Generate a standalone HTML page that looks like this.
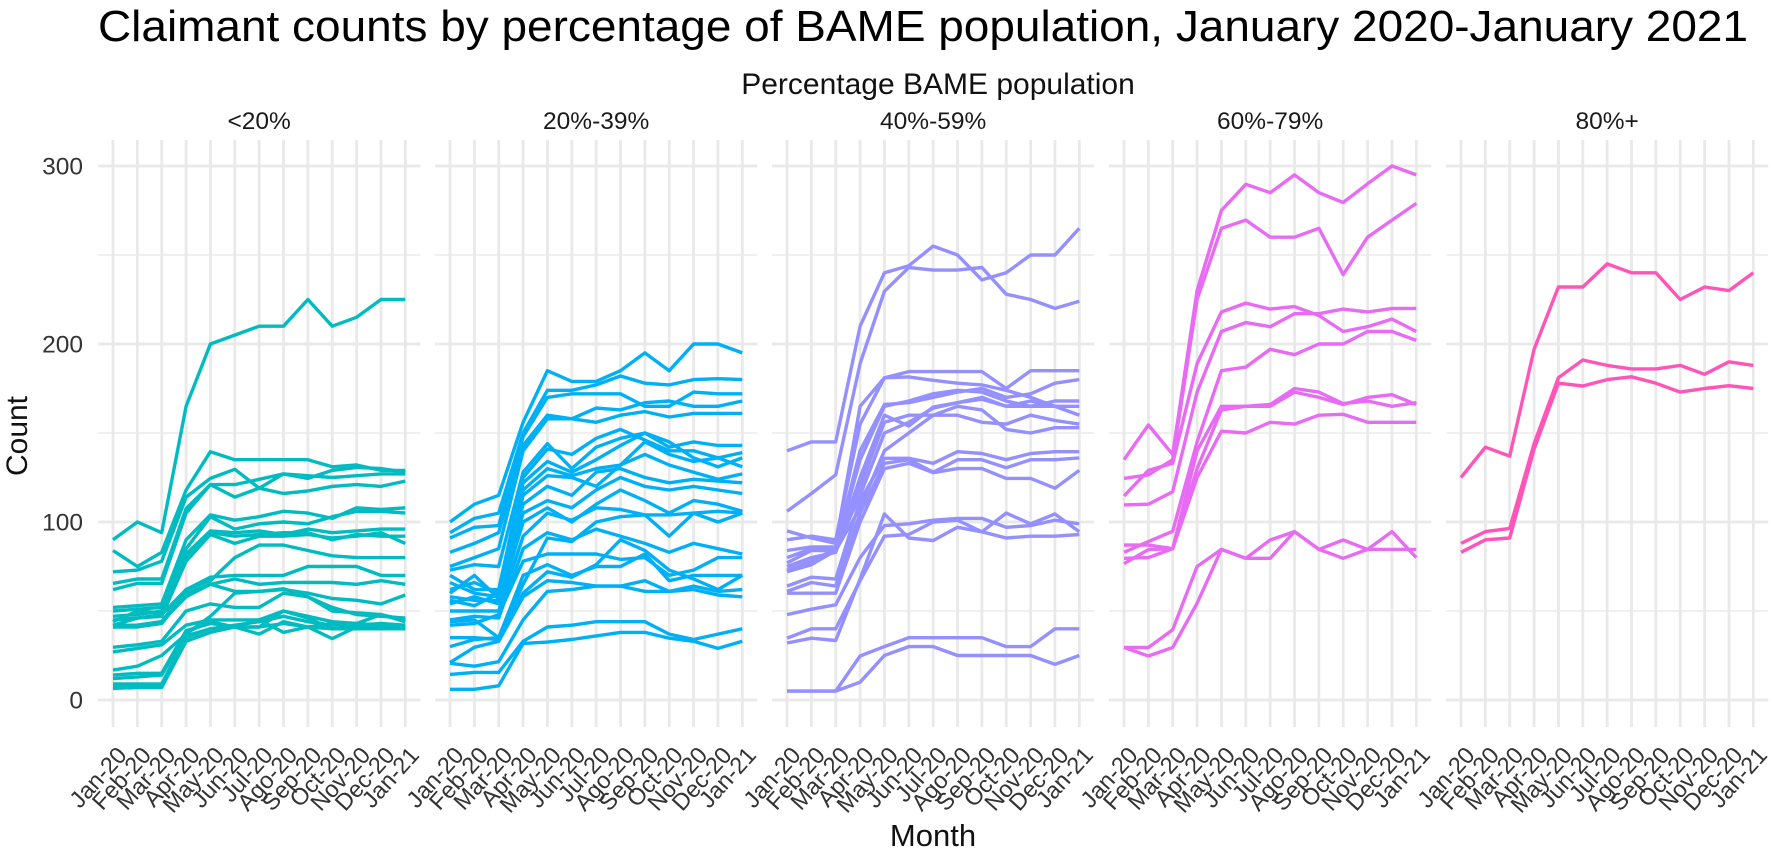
<!DOCTYPE html>
<html lang="en">
<head>
<meta charset="utf-8">
<title>Claimant counts by percentage of BAME population</title>
<style>
  html, body { margin: 0; padding: 0; background: #fff; }
  svg { display: block; font-family: "Liberation Sans", Arial, sans-serif; }
</style>
</head>
<body>
<svg id="chart" xmlns="http://www.w3.org/2000/svg" width="1772" height="855" viewBox="0 0 1772 855">
  <rect x="0" y="0" width="1772" height="855" fill="#ffffff"/>
  <text x="98" y="41" font-size="44" fill="#000" textLength="1650" lengthAdjust="spacingAndGlyphs">Claimant counts by percentage of BAME population, January 2020-January 2021</text>
  <text x="938" y="94" font-size="30" fill="#111" text-anchor="middle">Percentage BAME population</text>
  <text transform="translate(27 436) rotate(-90)" font-size="30" fill="#111" text-anchor="middle">Count</text>
  <text x="933" y="846" font-size="31" fill="#111" text-anchor="middle">Month</text>
</svg>
<script>
const months = ['Jan-20','Feb-20','Mar-20','Apr-20','May-20','Jun-20','Jul-20','Ago-20','Sep-20','Oct-20','Nov-20','Dec-20','Jan-21'];
const majorTicks = [0, 100, 200, 300];
const minorTicks = [50, 150, 250];
const panelLabels = ['<20%', '20%-39%', '40%-59%', '60%-79%', '80%+'];
const panelColors = ['#00BCC0', '#00B0F6', '#9590FF', '#E76BF3', '#FF55B8'];

const seriesUnder20 = [
  [90,100,94,165,200,205,210,210,225,210,215,225,225],
  [84,75,83,118,139.5,135,135,135,135,131,132,129,129],
  [72,73,78,114,124.5,129.6,119,116,117.5,120,121,120,123],
  [65.5,68,68,107.5,121,121,124,127,126,125,126,127,127],
  [62,65.5,65.5,105,121,114,119,127,124.5,129,130.7,130,128],
  [52,53,54,90,104,101,103,106,105,102,108,107,108],
  [50,51,52,85,103,96,99,100,99,103,106,106,105],
  [47,48,50,82,95,94,95,93,96,94,95,96,96],
  [44,50,49,80,94,92,93,94,94,90,93,92,92],
  [42,46,47,78,93,88,92,92,93,91,92,94,88],
  [41,42,44,62,67,80,87,87,84,81,80,80,80],
  [45,46,48,62,69,70,70,70,75,75,75,70,70],
  [42,42,44,58,65,68,65,66,66,66,65,67,65],
  [41,41,43,60,65,61,61,62,60,57,56,54,59],
  [29.6,31,33,50,54,52,52,60,58,52,48,47,46],
  [16.8,19,25,37,47,60,61,62.5,58,50,49,48,44],
  [27,29,31,42,45,45,45,50,47,44,43,42,41],
  [14,15,15,39,43,41,37,44,41,34.5,41,41,41],
  [12,13,14,38,44,41,45,38,41,43,43,48,45],
  [9,9,9,36,40,41,41,50,46,40,41,40,40],
  [6.5,7,7,33,38,41,41,43,41,40,40,40,40],
  [8,8,8,35,40,42,44,47,44,42,42,43,42]
];

const series20to39 = [
  [100,110,115,156,185,179,179,185,195,185,200,200,195],
  [94,102,105,150,174,174,177,182,178,177,180,180.5,180],
  [91,97,98,148,170,172,172,172,165,165,173,172,172],
  [83,88,94,143,160,158,164,163,167,168,165,165,168],
  [75,80,85,140,158,158,156,160,162,159,161,161,161],
  [73,76,75,128,144,130,142,147,150,142,145,143,143],
  [70,62,62,125,141,138,147,152,146,140,140,136,139],
  [66,60,58,122,134,128,135,143,150,145,136,131,136],
  [62,66,60,118,130,126,130,132,145,138,134,136,131],
  [60,70,57,115,126,125,120,132,138,132,128,124,127],
  [58,56,56,110,120,115,128,130,125,122,124,123,122],
  [56,53,60,105,112,108,118,125,120,118,120,118,116],
  [54,58,54,100,108,100,110,118,112,105,112,110,106],
  [50,50,50,92,105,101,108,107,104,92,105,100,105],
  [45,47,46,85,94,90,96,92,88,83,88,85,82],
  [44,45,35,65,91,89,100,103,104,104,105,106,105],
  [42,43,48,78,82,82,82,79,80,70,73,80,80],
  [35,35,34,60,72,69,76,90,84,73,68,62,70],
  [30,34,35,70,76,70,75,75,82,67,70,70,70],
  [21,29.6,33,58,67,66,64,64,67,61,64,61,62],
  [20.6,19,21.5,45,61,62,64,64,61,61,62,59,58],
  [14.4,15.5,15.5,33,41,42,44,44,44,37,34,37,40],
  [6,6,8,31.8,32.5,34,36,38,38,34.7,33,29,33]
];

const series40to59 = [
  [140,145,145,210,240,244,255,250,236,240,250,250,265],
  [106,116,126.5,189,229.6,243,241.5,241.5,243,228,225,220,224],
  [95,91,88,165,181,184.5,184.5,184.5,184.5,175,185,185,185],
  [90,92,90,155,181,181.5,179.6,178,177,174,170,165,160],
  [84,86,86,140,166,167,170,173,175,170,172,178,180],
  [80,85,85,135,165,168,172,174,173,168,165,168,168],
  [77,84,84,125,160,154,164.6,167,170,165,168,165,165],
  [75,80,83,120,156,160,160,160,156,155,160,157,155],
  [73,78,85,115,150,156,164,167,169,165,165,165,160],
  [72,76,84,108,140,150,160,165,163,152,150,153,153],
  [64,69,68,112,135.8,135.8,133,139.5,138.5,135,138.5,139.5,139.5],
  [61,66,64,105,133,135,128,135,135,130.5,135,135,136],
  [60,60,60,100,130,133,127.7,130,130,124.5,124.5,119,129],
  [48,51,53.5,80,98,99,101,102,102,97,98,101,99],
  [34.7,40,40,67,92,93,100,101,94.5,105,99,104.5,94.5],
  [32,34.7,33.4,68,104.5,91,89.6,97,94.5,91,92,92,93],
  [5,5,5,24.7,30,35,35,35,35,30,30,40,40],
  [5,5,5,10,25,30,30,25,25,25,25,20,25]
];

const series60to79 = [
  [135,154.5,138,230,275,289.7,285,295,285,279.5,290,300,295],
  [124.5,126.5,135,225,265,269.6,260,260,265,239,260,269.6,279],
  [114.6,129,133,189,218,223,219.6,221,216,207,209.7,214,207],
  [109.6,110,117,173,207,212,209.7,217,217,219.6,218,220,220],
  [83,89,94.8,145,185,187,197,194,200,200,207,207,202],
  [87,87,85,140,165,165,166,175,173,166.5,168,165,167],
  [76.6,84.5,85,130,163,165,165,173,170,166,170,171.5,166],
  [79.6,80,85,125,151,150,156,155,160,160.5,156,156,156],
  [29.5,29.5,39.5,75,84.6,79.6,89.9,94.6,84.6,89.9,84.6,84.6,84.6],
  [29.5,24.7,29.5,54.3,84.6,79.6,79.6,94.6,84.6,79.6,84.6,94.6,80]
];

const series80plus = [
  [125,142,137,197,232,232,245,240,240,225,232,230,240],
  [88,94.6,96.4,144,181,191,188,186,186,188,183,190,188],
  [83,90,91,141,178,176.4,180,181.6,178,173,175,176.6,175]
];

const panelSeries = [seriesUnder20, series20to39, series40to59, series60to79, series80plus];

const NS = 'http://www.w3.org/2000/svg';
const svg = document.getElementById('chart');
const panelStep = 337, firstTickX = 113, monthStep = 24.36;
const panelPad = 15, zeroY = 700, unitY = 1.78, panelTop = 140, panelBottom = 727;

function xScale(panel, monthIndex) { return firstTickX + panelStep * panel + monthStep * monthIndex; }
function yScale(value) { return zeroY - unitY * value; }
function make(tag, attrs, parent, text) {
  const el = document.createElementNS(NS, tag);
  for (const k in attrs) el.setAttribute(k, attrs[k]);
  if (text !== undefined) el.textContent = text;
  parent.appendChild(el);
  return el;
}

panelLabels.forEach(function (label, p) {
  const left = xScale(p, 0) - panelPad;
  const right = xScale(p, months.length - 1) + panelPad;

  const group = make('g', {}, svg);
  
  

  const strip = make('text', { x: (left + right) / 2, y: 129, 'font-size': 24.5, fill: '#1a1a1a', 'text-anchor': 'middle' }, group, label);
  
  

  minorTicks.forEach(function (t) {
    const g = make('line', { x1: left, x2: right, y1: yScale(t), y2: yScale(t), stroke: '#ebebeb', 'stroke-width': 1.6 }, group);
    
    
  });
  majorTicks.forEach(function (t) {
    const g = make('line', { x1: left, x2: right, y1: yScale(t), y2: yScale(t), stroke: '#e9e9e9', 'stroke-width': 2.8 }, group);
    
    
  });
  months.forEach(function (m, i) {
    const g = make('line', { x1: xScale(p, i), x2: xScale(p, i), y1: panelTop, y2: panelBottom, stroke: '#e9e9e9', 'stroke-width': 2.8 }, group);
    
    

    const bx = xScale(p, i) + 15, by = 756;
    const tick = make('text', { transform: 'translate(' + bx + ' ' + by + ') rotate(-48)', 'font-size': 23.5, fill: '#333', 'text-anchor': 'end' }, group, m);
    
    
  });

  panelSeries[p].forEach(function (values) {
    const pts = values.map(function (v, i) { return xScale(p, i).toFixed(1) + ',' + yScale(v).toFixed(1); }).join(' ');
    const line = make('polyline', { points: pts, fill: 'none', stroke: panelColors[p], 'stroke-width': 3.4, 'stroke-linejoin': 'round', 'stroke-linecap': 'butt' }, group);
    
    
  });
});

majorTicks.forEach(function (t) {
  const label = make('text', { x: 83, y: yScale(t) + 8.5, 'font-size': 24.5, fill: '#333', 'text-anchor': 'end' }, svg, String(t));
  
  
});
</script>
</body>
</html>
